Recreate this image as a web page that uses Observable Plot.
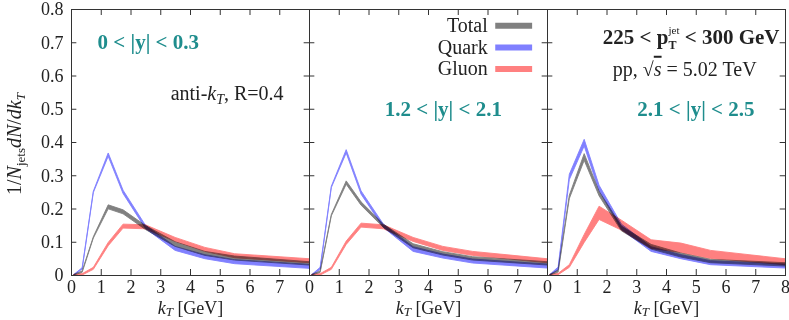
<!DOCTYPE html>
<html><head><meta charset="utf-8">
<script src="https://cdn.jsdelivr.net/npm/d3@7"></script>
<script src="https://cdn.jsdelivr.net/npm/@observablehq/plot@0.6"></script>
<style>body{margin:0;background:#fff} svg{font-family:"Liberation Serif",serif}</style>
</head><body><div id="chart"></div>
<script>
// ---- data ----
const panels = ["0 < |y| < 0.3", "1.2 < |y| < 2.1", "2.1 < |y| < 2.5"];
const seriesNames = ["Total", "Quark", "Gluon"];
const seriesColors = ["#808080", "#8080ff", "#ff8080"];
const kT = [0.1, 0.375, 0.75, 1.25, 1.75, 2.5, 3.5, 4.5, 5.5, 8];
const xTickLabels = [0, 1, 2, 3, 4, 5, 6, 7];
const xTicks = [0, 1, 2, 3, 4, 5, 6, 7, 8];
const yTicks = [0, 0.1, 0.2, 0.3, 0.4, 0.5, 0.6, 0.7, 0.8];

const total1 = [0, 0.01, 0.113, 0.205, 0.19, 0.143, 0.093, 0.065, 0.051, 0.035];
const total1Err = [0.002, 0.002, 0.002, 0.006, 0.006, 0.006, 0.007, 0.006, 0.006, 0.005];
const quark1 = [0, 0.02, 0.25, 0.362, 0.25, 0.145, 0.08, 0.055, 0.04, 0.026];
const quark1Err = [0.002, 0.002, 0.002, 0.005, 0.005, 0.005, 0.006, 0.006, 0.006, 0.006];
const gluon1 = [0, 0.002, 0.02, 0.093, 0.147, 0.145, 0.107, 0.077, 0.058, 0.043];
const gluon1Err = [0.002, 0.002, 0.003, 0.005, 0.006, 0.006, 0.006, 0.006, 0.006, 0.006];

const total2 = [0, 0.01, 0.18, 0.278, 0.215, 0.148, 0.088, 0.065, 0.05, 0.035];
const total2Err = [0.002, 0.002, 0.002, 0.005, 0.005, 0.005, 0.006, 0.005, 0.005, 0.005];
const quark2 = [0, 0.02, 0.265, 0.372, 0.248, 0.148, 0.078, 0.057, 0.042, 0.027];
const quark2Err = [0.002, 0.003, 0.002, 0.005, 0.005, 0.005, 0.007, 0.006, 0.006, 0.006];
const gluon2 = [0, 0.002, 0.02, 0.097, 0.15, 0.145, 0.107, 0.08, 0.065, 0.043];
const gluon2Err = [0.002, 0.002, 0.003, 0.005, 0.006, 0.006, 0.006, 0.006, 0.006, 0.006];

const total3 = [0, 0.012, 0.235, 0.355, 0.245, 0.14, 0.085, 0.06, 0.042, 0.032];
const total3Err = [0.002, 0.003, 0.005, 0.01, 0.007, 0.007, 0.007, 0.006, 0.005, 0.005];
const quark3 = [0, 0.02, 0.295, 0.398, 0.262, 0.145, 0.078, 0.055, 0.037, 0.027];
const quark3Err = [0.002, 0.004, 0.008, 0.01, 0.008, 0.008, 0.007, 0.006, 0.006, 0.006];
const gluon3 = [0, 0.003, 0.027, 0.11, 0.187, 0.15, 0.093, 0.082, 0.062, 0.04];
const gluon3Err = [0.002, 0.002, 0.004, 0.012, 0.02, 0.015, 0.013, 0.014, 0.012, 0.009];

// ---- build table ----
const sets = [
  [panels[0], "Total", total1, total1Err], [panels[0], "Quark", quark1, quark1Err], [panels[0], "Gluon", gluon1, gluon1Err],
  [panels[1], "Total", total2, total2Err], [panels[1], "Quark", quark2, quark2Err], [panels[1], "Gluon", gluon2, gluon2Err],
  [panels[2], "Total", total3, total3Err], [panels[2], "Quark", quark3, quark3Err], [panels[2], "Gluon", gluon3, gluon3Err]
];
const rows = [];
for (const [panel, series, vals, errs] of sets)
  kT.forEach((x, i) => rows.push({panel, series, x, lo: Math.max(0, vals[i] - errs[i]), hi: vals[i] + errs[i]}));
const colorOf = Object.fromEntries(seriesNames.map((s, i) => [s, seriesColors[i]]));

const area = s => Plot.areaY(rows.filter(d => d.series === s),
  {x: "x", y1: "lo", y2: "hi", fx: "panel", fill: colorOf[s], stroke: colorOf[s], strokeWidth: 0.9,
   mixBlendMode: "multiply", curve: "linear"});

const W = 789, H = 320, mL = 70, mR = 3, mT = 9, mB = 45;
const facetW = (W - mL - mR) / 3, facetH = H - mT - mB, tk = 6;
const teal = "#1f8d8d", ink = "#222", axisInk = "#333";
const fs = 18;

const ann = (panel, text, x, y, opts = {}) =>
  Plot.text([panel], {fx: d => d, x: () => x, y: () => y, text: () => text, fill: ink, fontSize: 20, ...opts});

const plot = Plot.plot({
  width: W, height: H, marginLeft: mL, marginRight: mR, marginTop: mT, marginBottom: mB,
  style: {fontFamily: "Liberation Serif, serif", fontSize: fs + "px", color: ink, background: "#fff"},
  fx: {domain: panels, padding: 0, axis: null},
  x: {domain: [0, 8], axis: null},
  y: {domain: [0, 0.8], axis: null},
  marks: [
    area("Gluon"), area("Total"), area("Quark"),
    // inward ticks
    Plot.tickX(xTicks, {x: d => d, insetTop: facetH - tk, stroke: axisInk}),
    Plot.tickX(xTicks, {x: d => d, insetBottom: facetH - tk, stroke: axisInk}),
    Plot.tickY(yTicks, {y: d => d, insetRight: facetW - tk, stroke: axisInk}),
    Plot.tickY(yTicks, {y: d => d, insetLeft: facetW - tk, stroke: axisInk}),
    Plot.frame({stroke: axisInk}),
    Plot.axisX(xTickLabels, {tickSize: 0, tickPadding: 5, label: null, fontSize: fs, fill: ink}),
    Plot.text([panels[2]], {fx: d => d, x: () => 8, frameAnchor: "bottom", lineAnchor: "top", dy: 5, text: () => "8", fontSize: fs, fill: ink}),
    Plot.axisY(yTicks, {tickSize: 0, tickPadding: 8, label: null, fontSize: fs, fill: ink, tickFormat: d => d === 0 ? "0" : d.toFixed(1)}),
    Plot.text(panels, {fx: d => d, x: () => 4, frameAnchor: "bottom", lineAnchor: "middle", dy: 33.2, text: () => "kT [GeV]", fontSize: 18, fill: ink}),
    // annotations
    ann(panels[0], panels[0], 2.58, 0.70, {fill: teal, fontWeight: "bold", fontSize: 21}),
    ann(panels[0], "anti-kT, R=0.4", 7.13, 0.548, {textAnchor: "end"}),
    ann(panels[1], panels[1], 4.5, 0.50, {fill: teal, fontWeight: "bold", fontSize: 21}),
    ann(panels[2], panels[2], 4.99, 0.50, {fill: teal, fontWeight: "bold", fontSize: 21}),
    ann(panels[2], "pTjet", 7.8, 0.716, {textAnchor: "end", fontWeight: "bold", fontSize: 21}),
    ann(panels[2], "sqrts", 7.03, 0.62, {textAnchor: "end"}),
    // legend
    Plot.ruleY(seriesNames, {fx: () => panels[1], y: (d, i) => 0.751 - i * 0.065, x1: () => 6.26, x2: () => 7.5, stroke: d => colorOf[d], strokeWidth: 6}),
    Plot.text(seriesNames, {fx: () => panels[1], y: (d, i) => 0.751 - i * 0.065, x: () => 5.99, text: d => d, textAnchor: "end", fontSize: 20, fill: ink})
  ]
});
document.getElementById("chart").appendChild(plot);

// rich text (math-like)
const sub = (t, it = false, size = 13, d = 4) => `<tspan font-size="${size}" dy="${d}"${it ? ' font-style="italic"' : ''}>${t}</tspan>`;
const rich = {
  "kT [GeV]": `<tspan font-style="italic">k</tspan>${sub("T", true, 13, 2)}<tspan dy="-2"> [GeV]</tspan>`,
  "anti-kT, R=0.4": `anti-<tspan font-style="italic">k</tspan>${sub("T", true, 14)}<tspan dy="-4">, R=0.4</tspan>`,
  "pTjet": `225 &lt; p<tspan class="sup" font-size="11" font-weight="normal" dy="-10">jet</tspan><tspan class="subT" font-size="12" dy="15">T</tspan><tspan class="rest" dy="-5"> &lt; 300 GeV</tspan>`,
  "sqrts": `pp, √<tspan font-style="italic" text-decoration="overline">s</tspan> = 5.02 TeV`
};
d3.select(plot).selectAll("text").each(function () {
  const t = this.textContent;
  if (rich[t]) this.innerHTML = rich[t];
});
// stack sub/superscript on p_T^jet
d3.select(plot).selectAll("text").each(function () {
  const sup = this.querySelector(".sup"), subT = this.querySelector(".subT"), rest = this.querySelector(".rest");
  if (!sup) return;
  const lj = sup.getComputedTextLength(), lt = subT.getComputedTextLength();
  subT.setAttribute("dx", -lj);
  rest.setAttribute("dx", Math.max(0, lj - lt));
});
// y-axis title
d3.select(plot).append("text")
  .attr("transform", `translate(21,${mT + facetH / 2 + 2}) rotate(-90)`)
  .attr("text-anchor", "middle").attr("fill", ink).attr("font-size", 20)
  .html(`1/<tspan font-style="italic">N</tspan>${sub("jets", false, 13)}<tspan dy="-4" font-style="italic">dN</tspan>/<tspan font-style="italic">dk</tspan>${sub("T", true, 13)}`);
</script></body></html>
